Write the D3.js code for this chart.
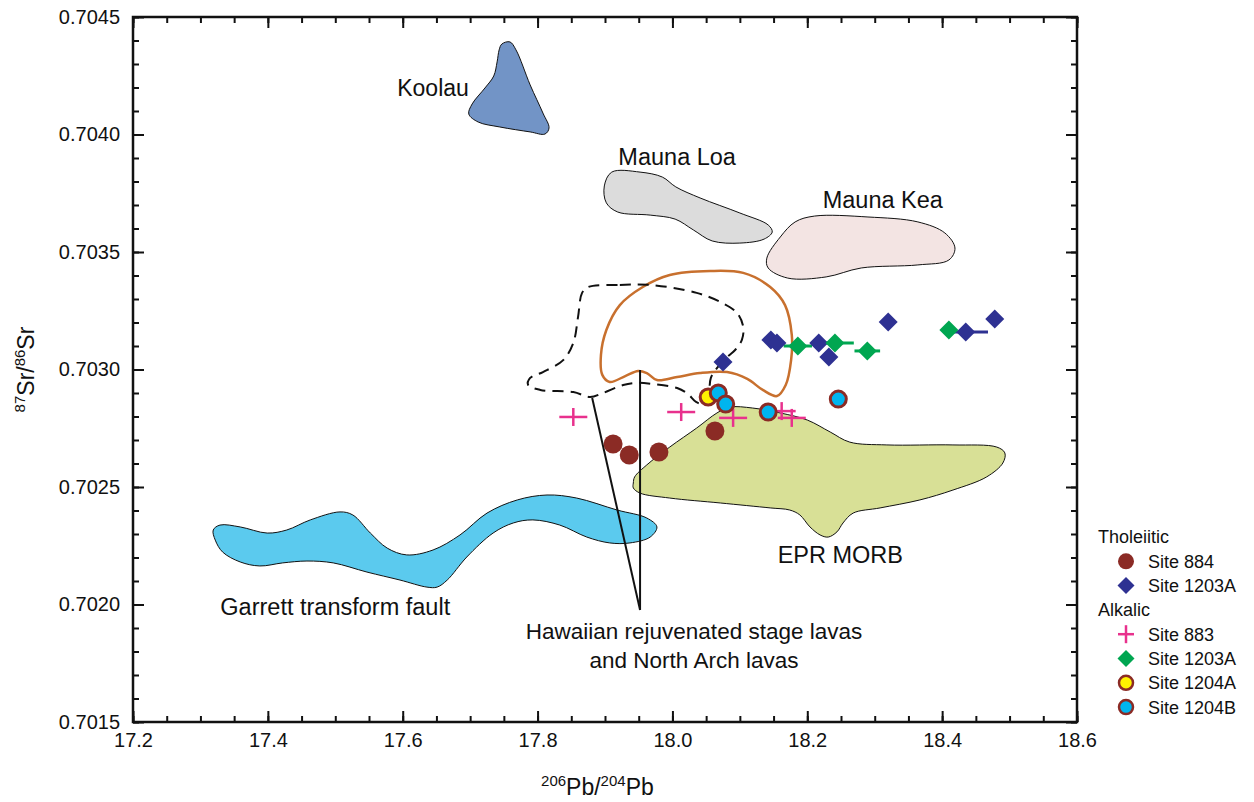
<!DOCTYPE html>
<html>
<head>
<meta charset="utf-8">
<script src="https://cdn.jsdelivr.net/npm/d3@7"></script>
<style>
  body { margin: 0; background: #fff; }
  text { font-family: "Liberation Sans", Arial, Helvetica, sans-serif; fill: #111; }
</style>
</head>
<body>
<svg id="chart" width="1254" height="802"></svg>
<script>
// ---- data (206Pb/204Pb, 87Sr/86Sr) ----
const xTickValues = [17.2, 17.4, 17.6, 17.8, 18.0, 18.2, 18.4, 18.6];
const yTickValues = [0.7015, 0.7020, 0.7025, 0.7030, 0.7035, 0.7040, 0.7045];

// Tholeiitic
const site884 = [[17.912, 0.702683], [17.936, 0.702636], [17.980, 0.702649], [18.063, 0.702738]];
const site1203A_thol = [
  [18.075, 0.703032, 0], [18.146, 0.703126, 0], [18.155, 0.703113, 0], [18.217, 0.703113, 0],
  [18.232, 0.703053, 0], [18.320, 0.703202, 0], [18.435, 0.703160, 0.033], [18.478, 0.703215, 0]
];
// Alkalic
const site883 = [[17.853, 0.702798], [18.013, 0.702819], [18.090, 0.702794], [18.162, 0.702823], [18.177, 0.702794]];
const site1203A_alk = [[18.186, 0.703100, 0.021], [18.241, 0.703113, 0.028], [18.289, 0.703079, 0.019], [18.410, 0.703168, 0]];
const site1204A = [[18.053, 0.702883]];
const site1204B = [[18.068, 0.702900], [18.079, 0.702853], [18.142, 0.702819], [18.246, 0.702874]];

// fields
const koolau = [[17.747,0.704385],[17.759,0.704394],[17.768,0.70436],[17.789,0.704211],[17.808,0.704091],[17.817,0.704028],[17.811,0.704002],[17.789,0.704011],[17.744,0.704032],[17.712,0.704053],[17.698,0.704087],[17.703,0.70413],[17.722,0.704198],[17.735,0.704249],[17.740,0.704309],[17.743,0.70436]];
const maunaLoa = [[17.910,0.70384],[17.952,0.70384],[17.985,0.703819],[18.005,0.703777],[18.041,0.70373],[18.100,0.703666],[18.142,0.703615],[18.148,0.703585],[18.136,0.703555],[18.100,0.703538],[18.059,0.703547],[18.031,0.703594],[18.004,0.70364],[17.967,0.703657],[17.919,0.70367],[17.902,0.703709],[17.899,0.703781]];
const maunaKea = [[18.211,0.703653],[18.290,0.703649],[18.364,0.703628],[18.404,0.703581],[18.419,0.703517],[18.410,0.703466],[18.364,0.703445],[18.280,0.703432],[18.228,0.703394],[18.171,0.703389],[18.142,0.703432],[18.140,0.703474],[18.160,0.703564],[18.182,0.703628]];
const orangeField = [[18.056,0.703419],[18.105,0.703411],[18.145,0.703351],[18.167,0.703274],[18.177,0.703147],[18.176,0.70304],[18.168,0.702934],[18.155,0.702887],[18.134,0.702913],[18.111,0.70296],[18.081,0.702989],[18.041,0.702985],[18.007,0.702968],[17.977,0.702955],[17.962,0.702985],[17.949,0.702994],[17.930,0.702972],[17.907,0.702947],[17.896,0.702977],[17.894,0.703062],[17.902,0.703168],[17.922,0.703274],[17.956,0.703351],[17.996,0.703402]];
const rejuvField = [[17.875,0.703351],[17.922,0.70336],[17.967,0.70336],[18.036,0.703326],[18.074,0.703283],[18.096,0.70324],[18.105,0.703181],[18.103,0.703126],[18.093,0.703083],[18.081,0.703053],[18.066,0.703006],[18.057,0.702964],[18.054,0.702904],[18.047,0.702853],[18.035,0.702862],[18.023,0.702896],[18.007,0.702921],[17.971,0.702938],[17.947,0.702943],[17.927,0.702934],[17.897,0.7029],[17.878,0.702883],[17.853,0.702904],[17.804,0.702913],[17.786,0.702934],[17.789,0.702964],[17.808,0.702989],[17.838,0.70304],[17.853,0.703113],[17.860,0.703223],[17.866,0.703326]];
const garrett = [[17.329,0.702338],[17.359,0.70233],[17.399,0.702304],[17.428,0.702317],[17.463,0.70236],[17.507,0.702394],[17.526,0.702381],[17.552,0.702304],[17.577,0.70224],[17.606,0.702211],[17.645,0.702232],[17.685,0.702296],[17.725,0.702389],[17.770,0.702445],[17.814,0.702466],[17.858,0.702453],[17.918,0.702402],[17.962,0.702368],[17.977,0.70233],[17.967,0.702287],[17.937,0.702262],[17.907,0.702262],[17.873,0.702287],[17.833,0.702338],[17.793,0.70236],[17.764,0.702347],[17.734,0.702304],[17.695,0.702202],[17.666,0.702104],[17.651,0.702074],[17.636,0.702074],[17.596,0.702104],[17.547,0.702138],[17.497,0.702177],[17.458,0.702185],[17.422,0.702177],[17.388,0.702164],[17.359,0.702181],[17.333,0.702223],[17.322,0.702274],[17.319,0.702317]];
const eprMorb = [[17.942,0.702517],[17.944,0.702543],[17.962,0.702594],[17.996,0.70267],[18.036,0.702751],[18.066,0.702815],[18.085,0.70284],[18.119,0.702836],[18.160,0.702815],[18.200,0.702785],[18.234,0.702734],[18.263,0.702691],[18.318,0.702679],[18.416,0.702679],[18.481,0.70267],[18.493,0.702645],[18.490,0.702602],[18.466,0.702543],[18.416,0.702487],[18.367,0.702445],[18.308,0.702411],[18.268,0.702389],[18.253,0.702347],[18.244,0.702309],[18.231,0.702287],[18.219,0.702296],[18.204,0.70233],[18.189,0.702381],[18.174,0.702402],[18.145,0.702411],[18.071,0.702432],[17.996,0.702453],[17.952,0.702474],[17.942,0.702496]];

const leaderLines = [
  [[17.952, 0.702998], [17.952, 0.701977]],
  [[17.881, 0.702879], [17.952, 0.701977]]
];

const fieldLabels = [
  { text: 'Koolau', x: 17.645, y: 0.704164, size: 23 },
  { text: 'Mauna Loa', x: 18.007, y: 0.70387, size: 23.5 },
  { text: 'Mauna Kea', x: 18.312, y: 0.703687, size: 23.5 },
  { text: 'EPR MORB', x: 18.249, y: 0.702177, size: 23.5 },
  { text: 'Garrett transform fault', x: 17.500, y: 0.701955, size: 23.5 },
  { text: 'Hawaiian rejuvenated stage lavas', x: 18.032, y: 0.701853, size: 22.5 },
  { text: 'and North Arch lavas', x: 18.032, y: 0.70173, size: 22.5 }
];

// ---- layout ----
const width = 1254, height = 802;
const margin = { top: 17, right: 177, bottom: 80, left: 133 };
const innerW = width - margin.left - margin.right;
const innerH = height - margin.top - margin.bottom;

const svg = d3.select('#chart');
const g = svg.append('g').attr('transform', `translate(${margin.left},${margin.top})`);

const x = d3.scaleLinear().domain([17.2, 18.6]).range([0, innerW]);
const y = d3.scaleLinear().domain([0.7015, 0.7045]).range([innerH, 0]);

const colors = {
  koolau: '#7294c6', loa: '#dcdcdc', kea: '#f3e4e3', garrett: '#5bcaee', epr: '#d8e096',
  orange: '#c8702e', brown: '#8b2b25', blue: '#2e3192', green: '#00a651', pink: '#e8318d',
  cyan: '#00b5ef', yellow: '#fff200'
};

const closed = d3.line().x(d => x(d[0])).y(d => y(d[1])).curve(d3.curveCatmullRomClosed.alpha(0.5));

// filled fields
[[koolau, colors.koolau], [maunaLoa, colors.loa], [maunaKea, colors.kea], [garrett, colors.garrett], [eprMorb, colors.epr]]
  .forEach(([pts, fill]) => {
    g.append('path').attr('d', closed(pts)).attr('fill', fill).attr('stroke', '#111').attr('stroke-width', 1);
  });

g.append('path').attr('d', closed(orangeField)).attr('fill', 'none')
  .attr('stroke', colors.orange).attr('stroke-width', 2.5);
g.append('path').attr('d', closed(rejuvField)).attr('fill', 'none')
  .attr('stroke', '#111').attr('stroke-width', 2).attr('stroke-dasharray', '11,7');

leaderLines.forEach(l => {
  g.append('line')
    .attr('x1', x(l[0][0])).attr('y1', y(l[0][1]))
    .attr('x2', x(l[1][0])).attr('y2', y(l[1][1]))
    .attr('stroke', '#111').attr('stroke-width', 2);
});

fieldLabels.forEach(l => {
  g.append('text').attr('x', x(l.x)).attr('y', y(l.y))
    .attr('text-anchor', 'middle').attr('font-size', l.size).text(l.text);
});

// ---- axes ----
const yMinor = d3.range(0, 31).map(i => +(0.7015 + i * 0.0001).toFixed(4));
const xMinor = d3.range(0, 29).map(i => +(17.2 + i * 0.05).toFixed(2));

function styleAxis(sel) {
  sel.select('.domain').remove();
  sel.selectAll('line').attr('stroke', '#111').attr('stroke-width', 2);
  sel.selectAll('text').attr('font-size', 20).attr('fill', '#111')
    .style('font-family', '"Liberation Sans", Arial, sans-serif');
}

// minor
g.append('g').call(d3.axisLeft(y).tickValues(yMinor).tickSize(-6).tickFormat('')).call(styleAxis);
g.append('g').attr('transform', `translate(${innerW},0)`)
  .call(d3.axisRight(y).tickValues(yMinor).tickSize(-6).tickFormat('')).call(styleAxis);
g.append('g').attr('transform', `translate(0,${innerH})`)
  .call(d3.axisBottom(x).tickValues(xMinor).tickSize(-6).tickFormat('')).call(styleAxis);
g.append('g').call(d3.axisTop(x).tickValues(xMinor).tickSize(-6).tickFormat('')).call(styleAxis);

// major
g.append('g').call(d3.axisLeft(y).tickValues(yTickValues).tickSize(-11).tickPadding(13).tickFormat(d3.format('.4f'))).call(styleAxis);
g.append('g').attr('transform', `translate(${innerW},0)`)
  .call(d3.axisRight(y).tickValues(yTickValues).tickSize(-11).tickFormat('')).call(styleAxis);
g.append('g').attr('transform', `translate(0,${innerH})`)
  .call(d3.axisBottom(x).tickValues(xTickValues).tickSize(-11).tickPadding(11).tickFormat(d3.format('.1f'))).call(styleAxis);
g.append('g').call(d3.axisTop(x).tickValues(xTickValues).tickSize(-11).tickFormat('')).call(styleAxis);

g.append('rect').attr('width', innerW).attr('height', innerH)
  .attr('fill', 'none').attr('stroke', '#111').attr('stroke-width', 2.5);

// axis titles
const xt = svg.append('text').attr('x', margin.left + x(18.0) - 75).attr('y', 795)
  .attr('text-anchor', 'middle').attr('font-size', 23);
xt.append('tspan').attr('font-size', 15).attr('dy', -9).text('206');
xt.append('tspan').attr('dy', 9).text('Pb/');
xt.append('tspan').attr('font-size', 15).attr('dy', -9).text('204');
xt.append('tspan').attr('dy', 9).text('Pb');

const yt = svg.append('text').attr('transform', `translate(34,${margin.top + y(0.7030)}) rotate(-90)`)
  .attr('text-anchor', 'middle').attr('font-size', 23);
yt.append('tspan').attr('font-size', 15).attr('dy', -9).text('87');
yt.append('tspan').attr('dy', 9).text('Sr/');
yt.append('tspan').attr('font-size', 15).attr('dy', -9).text('86');
yt.append('tspan').attr('dy', 9).text('Sr');

// ---- symbols ----
const diamond = s => `M0,${-s}L${s},0L0,${s}L${-s},0Z`;

function errBars(data, color) {
  g.append('g').selectAll('line').data(data.filter(d => d[2] > 0)).join('line')
    .attr('x1', d => x(d[0] - d[2])).attr('x2', d => x(d[0] + d[2]))
    .attr('y1', d => y(d[1])).attr('y2', d => y(d[1]))
    .attr('stroke', color).attr('stroke-width', 3);
}
errBars(site1203A_thol, colors.blue);
errBars(site1203A_alk, colors.green);

function drawCross(sel, color) {
  sel.append('line').attr('x1', -14).attr('x2', 14).attr('stroke', color).attr('stroke-width', 2.5);
  sel.append('line').attr('y1', -9).attr('y2', 9).attr('stroke', color).attr('stroke-width', 2.5);
}

g.append('g').selectAll('g').data(site883).join('g')
  .attr('transform', d => `translate(${x(d[0])},${y(d[1])})`)
  .each(function() { drawCross(d3.select(this), colors.pink); });

g.append('g').selectAll('path').data(site1203A_thol).join('path')
  .attr('transform', d => `translate(${x(d[0])},${y(d[1])})`)
  .attr('d', diamond(9.5)).attr('fill', colors.blue);

g.append('g').selectAll('path').data(site1203A_alk).join('path')
  .attr('transform', d => `translate(${x(d[0])},${y(d[1])})`)
  .attr('d', diamond(9.5)).attr('fill', colors.green);

g.append('g').selectAll('circle').data(site884).join('circle')
  .attr('cx', d => x(d[0])).attr('cy', d => y(d[1])).attr('r', 9.5).attr('fill', colors.brown);

g.append('g').selectAll('circle').data(site1204A).join('circle')
  .attr('cx', d => x(d[0])).attr('cy', d => y(d[1])).attr('r', 8)
  .attr('fill', colors.yellow).attr('stroke', colors.brown).attr('stroke-width', 3);

g.append('g').selectAll('circle').data(site1204B).join('circle')
  .attr('cx', d => x(d[0])).attr('cy', d => y(d[1])).attr('r', 8)
  .attr('fill', colors.cyan).attr('stroke', colors.brown).attr('stroke-width', 3);

// ---- legend ----
const legendItems = [
  { head: 'Tholeiitic' },
  { label: 'Site 884', type: 'circle', fill: colors.brown },
  { label: 'Site 1203A', type: 'diamond', fill: colors.blue },
  { head: 'Alkalic' },
  { label: 'Site 883', type: 'cross', fill: colors.pink },
  { label: 'Site 1203A', type: 'diamond', fill: colors.green },
  { label: 'Site 1204A', type: 'ring', fill: colors.yellow },
  { label: 'Site 1204B', type: 'ring', fill: colors.cyan }
];
const legend = svg.append('g').attr('transform', 'translate(1098,537)');
legendItems.forEach((it, i) => {
  const row = legend.append('g').attr('transform', `translate(0,${i * 24.3})`);
  if (it.head) {
    row.append('text').attr('y', 6).attr('font-size', 18).text(it.head);
    return;
  }
  const s = row.append('g').attr('transform', 'translate(28,0)');
  if (it.type === 'circle') s.append('circle').attr('r', 8).attr('fill', it.fill);
  if (it.type === 'diamond') s.append('path').attr('d', diamond(8.5)).attr('fill', it.fill);
  if (it.type === 'ring') s.append('circle').attr('r', 7).attr('fill', it.fill).attr('stroke', colors.brown).attr('stroke-width', 2.5);
  if (it.type === 'cross') {
    s.append('line').attr('x1', -8).attr('x2', 8).attr('stroke', it.fill).attr('stroke-width', 2.5);
    s.append('line').attr('y1', -9).attr('y2', 9).attr('stroke', it.fill).attr('stroke-width', 2.5);
  }
  row.append('text').attr('x', 50).attr('y', 6.5).attr('font-size', 18).text(it.label);
});
</script>
</body>
</html>
